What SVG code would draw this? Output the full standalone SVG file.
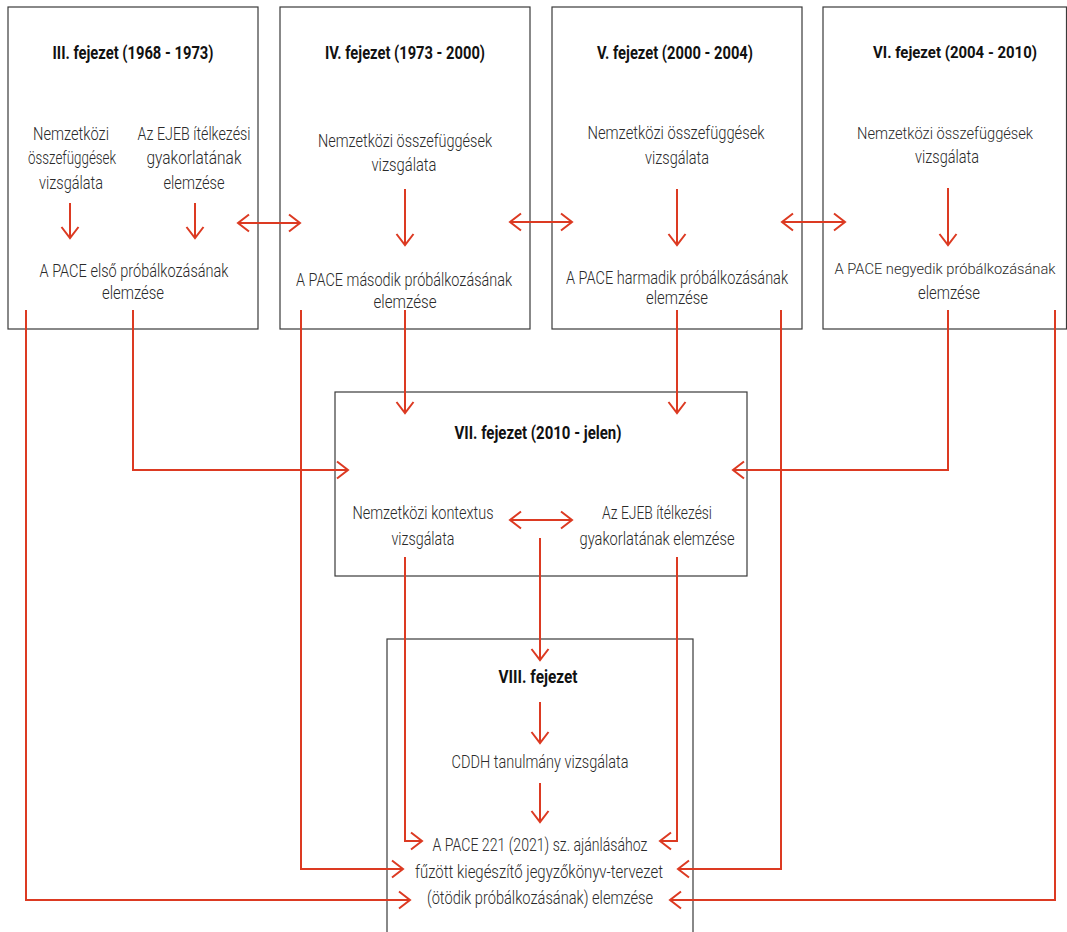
<svg xmlns="http://www.w3.org/2000/svg" width="1067" height="932" viewBox="0 0 1067 932">
<style>
.box{fill:#fff;stroke:#3a3a3a;stroke-width:1.2}
.t{font-family:"Roboto","Liberation Sans",sans-serif;font-weight:700;font-size:19px;fill:#111;text-anchor:middle}
.b{font-family:"Roboto","Liberation Sans",sans-serif;font-weight:300;font-size:18px;fill:#2a2a2a;text-anchor:middle}
.c{fill:none;stroke:#dc3a22;stroke-width:2}
</style>
<defs>
<marker id="ah" markerUnits="userSpaceOnUse" markerWidth="24" markerHeight="24" viewBox="-12 -12 24 24" refX="0" refY="0" orient="auto-start-reverse" overflow="visible">
<path d="M-11,-8.5 L0,0 L-11,8.5" fill="none" stroke="#dc3a22" stroke-width="2"/>
</marker>
</defs>
<rect width="1067" height="932" fill="#fff"/>

<g id="ch3">
<rect class="box" x="8" y="7" width="250" height="322"/>
<text class="t" x="133" y="59" textLength="161" lengthAdjust="spacingAndGlyphs">III. fejezet (1968 - 1973)</text>
<text class="b" x="71" y="140" textLength="76" lengthAdjust="spacingAndGlyphs">Nemzetközi</text>
<text class="b" x="72" y="164" textLength="88" lengthAdjust="spacingAndGlyphs">összefüggések</text>
<text class="b" x="71" y="189" textLength="64" lengthAdjust="spacingAndGlyphs">vizsgálata</text>
<text class="b" x="194" y="140" textLength="113" lengthAdjust="spacingAndGlyphs">Az EJEB ítélkezési</text>
<text class="b" x="194" y="164" textLength="95" lengthAdjust="spacingAndGlyphs">gyakorlatának</text>
<text class="b" x="194" y="189" textLength="61" lengthAdjust="spacingAndGlyphs">elemzése</text>
<text class="b" x="134" y="277" textLength="189" lengthAdjust="spacingAndGlyphs">A PACE első próbálkozásának</text>
<text class="b" x="133" y="299" textLength="62" lengthAdjust="spacingAndGlyphs">elemzése</text>
</g>

<g id="ch4">
<rect class="box" x="280" y="7" width="250" height="322"/>
<text class="t" x="405" y="59" textLength="160" lengthAdjust="spacingAndGlyphs">IV. fejezet (1973 - 2000)</text>
<text class="b" x="405" y="147" textLength="174" lengthAdjust="spacingAndGlyphs">Nemzetközi összefüggések</text>
<text class="b" x="404" y="171" textLength="65" lengthAdjust="spacingAndGlyphs">vizsgálata</text>
<text class="b" x="404" y="286" textLength="216" lengthAdjust="spacingAndGlyphs">A PACE második próbálkozásának</text>
<text class="b" x="405" y="308" textLength="63" lengthAdjust="spacingAndGlyphs">elemzése</text>
</g>

<g id="ch5">
<rect class="box" x="552" y="7" width="250" height="322"/>
<text class="t" x="675" y="59" textLength="156" lengthAdjust="spacingAndGlyphs">V. fejezet (2000 - 2004)</text>
<text class="b" x="676" y="139" textLength="177" lengthAdjust="spacingAndGlyphs">Nemzetközi összefüggések</text>
<text class="b" x="677" y="164" textLength="64" lengthAdjust="spacingAndGlyphs">vizsgálata</text>
<text class="b" x="677" y="284" textLength="222" lengthAdjust="spacingAndGlyphs">A PACE harmadik próbálkozásának</text>
<text class="b" x="677" y="304" textLength="62" lengthAdjust="spacingAndGlyphs">elemzése</text>
</g>

<g id="ch6">
<rect class="box" x="823" y="7" width="243.5" height="322"/>
<text class="t" x="955" y="58" textLength="164" lengthAdjust="spacingAndGlyphs" style="font-size:16.5px">VI. fejezet (2004 - 2010)</text>
<text class="b" x="945" y="139" textLength="176" lengthAdjust="spacingAndGlyphs" style="font-size:17px">Nemzetközi összefüggések</text>
<text class="b" x="947" y="163" textLength="64" lengthAdjust="spacingAndGlyphs">vizsgálata</text>
<text class="b" x="945" y="274" textLength="221" lengthAdjust="spacingAndGlyphs" style="font-size:14.5px">A PACE negyedik próbálkozásának</text>
<text class="b" x="949" y="299" textLength="62" lengthAdjust="spacingAndGlyphs">elemzése</text>
</g>

<g id="ch7">
<rect class="box" x="335" y="392" width="412" height="184"/>
<text class="t" x="538" y="439" textLength="167" lengthAdjust="spacingAndGlyphs">VII. fejezet (2010 - jelen)</text>
<text class="b" x="423" y="519" textLength="141" lengthAdjust="spacingAndGlyphs">Nemzetközi kontextus</text>
<text class="b" x="423" y="545" textLength="63" lengthAdjust="spacingAndGlyphs">vizsgálata</text>
<text class="b" x="657" y="519" textLength="110" lengthAdjust="spacingAndGlyphs">Az EJEB ítélkezési</text>
<text class="b" x="657" y="545" textLength="155" lengthAdjust="spacingAndGlyphs">gyakorlatának elemzése</text>
</g>

<g id="ch8">
<rect class="box" x="387" y="639" width="306" height="320"/>
<text class="t" x="538" y="683" textLength="79" lengthAdjust="spacingAndGlyphs">VIII. fejezet</text>
<text class="b" x="540" y="768" textLength="177" lengthAdjust="spacingAndGlyphs">CDDH tanulmány vizsgálata</text>
<text class="b" x="540" y="851" textLength="215" lengthAdjust="spacingAndGlyphs">A PACE 221 (2021) sz. ajánlásához</text>
<text class="b" x="539" y="878" textLength="248" lengthAdjust="spacingAndGlyphs">fűzött kiegészítő jegyzőkönyv-tervezet</text>
<text class="b" x="540" y="904" textLength="226" lengthAdjust="spacingAndGlyphs">(ötödik próbálkozásának) elemzése</text>
</g>

<g id="connectors">
<path class="c" d="M70,203 V238" marker-end="url(#ah)"/>
<path class="c" d="M195,203 V238" marker-end="url(#ah)"/>
<path class="c" d="M405,189 V245" marker-end="url(#ah)"/>
<path class="c" d="M677,189 V245" marker-end="url(#ah)"/>
<path class="c" d="M948,188 V245" marker-end="url(#ah)"/>
<path class="c" d="M238,223 H300" marker-start="url(#ah)" marker-end="url(#ah)"/>
<path class="c" d="M510,222 H572" marker-start="url(#ah)" marker-end="url(#ah)"/>
<path class="c" d="M782,222 H845" marker-start="url(#ah)" marker-end="url(#ah)"/>
<path class="c" d="M133,310 V470 H348" marker-end="url(#ah)"/>
<path class="c" d="M405,310 V413" marker-end="url(#ah)"/>
<path class="c" d="M677,310 V413" marker-end="url(#ah)"/>
<path class="c" d="M948,310 V470 H733" marker-end="url(#ah)"/>
<path class="c" d="M510,520 H572" marker-start="url(#ah)" marker-end="url(#ah)"/>
<path class="c" d="M540,538 V660" marker-end="url(#ah)"/>
<path class="c" d="M540,702 V743" marker-end="url(#ah)"/>
<path class="c" d="M540,783 V822" marker-end="url(#ah)"/>
<path class="c" d="M405,557 V841 H422" marker-end="url(#ah)"/>
<path class="c" d="M677,557 V841 H660" marker-end="url(#ah)"/>
<path class="c" d="M301,310 V869 H403" marker-end="url(#ah)"/>
<path class="c" d="M781,310 V869 H678" marker-end="url(#ah)"/>
<path class="c" d="M26,310 V900 H410" marker-end="url(#ah)"/>
<path class="c" d="M1055,310 V900 H670" marker-end="url(#ah)"/>
</g>
</svg>
